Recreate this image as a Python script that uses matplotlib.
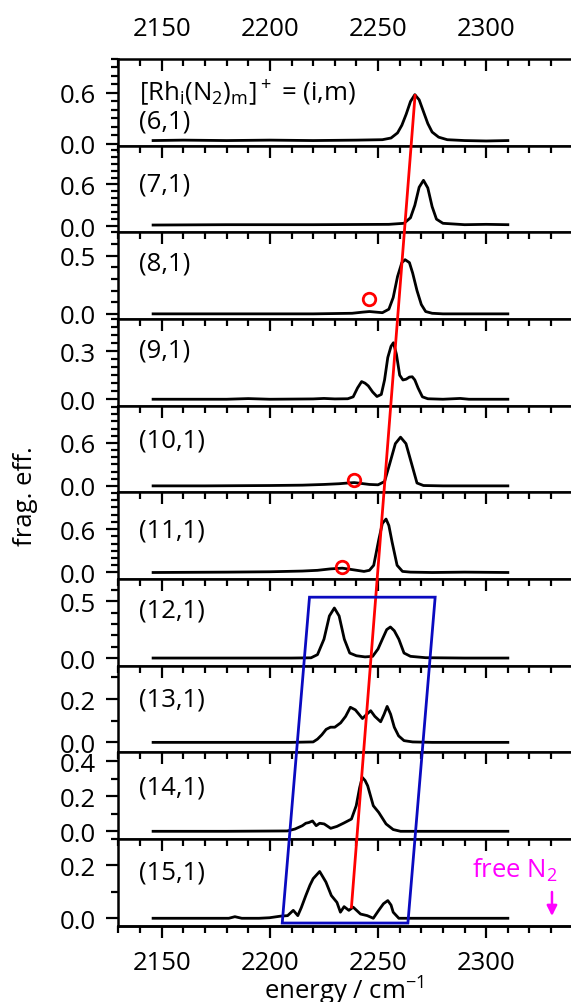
import matplotlib.pyplot as plt
from matplotlib.patches import Polygon
from matplotlib.ticker import MultipleLocator, FixedLocator, FormatStrFormatter

plt.rcParams['font.family'] = ['Open Sans', 'DejaVu Sans']
plt.rcParams['mathtext.default'] = 'regular'
FS = 18.5
plt.rcParams['font.size'] = FS

# spectra, cluster (i,1)
x6 = [2146, 2160, 2180, 2200, 2220, 2240, 2252, 2256, 2259, 2261, 2263, 2265, 2267, 2269, 2271, 2273, 2275, 2278, 2282, 2290, 2300, 2310]
y6 = [0.04, 0.045, 0.04, 0.045, 0.04, 0.045, 0.05, 0.07, 0.13, 0.22, 0.35, 0.5, 0.58, 0.52, 0.38, 0.24, 0.14, 0.08, 0.05, 0.04, 0.035, 0.04]

x7 = [2146, 2180, 2220, 2255, 2262, 2265, 2267, 2269, 2271, 2273, 2275, 2277, 2280, 2290, 2300, 2310]
y7 = [0.015, 0.02, 0.02, 0.025, 0.04, 0.12, 0.3, 0.56, 0.66, 0.55, 0.28, 0.1, 0.04, 0.02, 0.025, 0.02]

x8 = [2146, 2180, 2220, 2238, 2243, 2246, 2249, 2252, 2255, 2257, 2259, 2261, 2262.5, 2264.5, 2266, 2268, 2270, 2272, 2275, 2280, 2300, 2310]
y8 = [0.0, 0.0, 0.0, 0.005, 0.015, 0.02, 0.015, 0.01, 0.04, 0.14, 0.32, 0.44, 0.465, 0.44, 0.35, 0.2, 0.08, 0.02, 0.005, 0.0, 0.0, 0.0]

x9 = [2146, 2180, 2190, 2200, 2220, 2225, 2230, 2236, 2238.5, 2240.5, 2242.4, 2244, 2245.5, 2247.5, 2249.5, 2251.5, 2253,
      2254.5, 2256, 2257.1, 2258.5, 2260, 2261.5, 2263, 2264.5, 2265.8, 2267, 2268.5, 2270.5, 2273, 2280, 2288, 2292, 2310]
y9 = [0, 0, 0.004, 0, 0.002, 0.005, 0.002, 0.003, 0.015, 0.07, 0.11, 0.1, 0.083, 0.045, 0.017, 0.03, 0.12,
      0.26, 0.33, 0.352, 0.28, 0.15, 0.12, 0.125, 0.138, 0.14, 0.12, 0.07, 0.015, 0.003, 0.0, 0.005, 0.0, 0.0]

x10 = [2146, 2170, 2200, 2215, 2225, 2232, 2236, 2239, 2242, 2246, 2250, 2253, 2255.4, 2258, 2260.4, 2262.9, 2265.5, 2268, 2271, 2280, 2300, 2310]
y10 = [0.0, 0.0, 0.005, 0.01, 0.02, 0.03, 0.04, 0.046, 0.035, 0.02, 0.015, 0.06, 0.31, 0.59, 0.68, 0.59, 0.31, 0.04, 0.005, 0.0, 0.0, 0.0]

x11 = [2146, 2180, 2200, 2215, 2222, 2228, 2233.5, 2238, 2243.5, 2246, 2248, 2250.3, 2252, 2253.7, 2255, 2256.5, 2258.8, 2261.3, 2265, 2275, 2290, 2310]
y11 = [0.0, 0.005, 0.01, 0.02, 0.03, 0.05, 0.06, 0.04, 0.015, 0.03, 0.1, 0.45, 0.68, 0.74, 0.65, 0.42, 0.1, 0.015, 0.005, 0.0, 0.005, 0.0]

x12 = [2146, 2180, 2210, 2219, 2222, 2225, 2227.5, 2229.8, 2232, 2234.4, 2236.9, 2240, 2244, 2247.5, 2250, 2252, 2254,
       2255.7, 2257.5, 2259.6, 2262, 2265, 2272, 2290, 2310]
y12 = [0, 0, 0, 0.002, 0.03, 0.166, 0.37, 0.44, 0.37, 0.166, 0.044, 0.02, 0.01, 0.015, 0.08, 0.166, 0.25,
       0.273, 0.24, 0.166, 0.044, 0.015, 0.003, 0, 0]

x13 = [2146, 2180, 2210, 2220, 2222, 2224, 2226, 2228, 2230, 2232.7, 2235, 2237.2, 2239.5, 2242.8, 2244.8, 2246.6,
       2248.5, 2251.2, 2252.8, 2254.2, 2255.8, 2257.5, 2259.5, 2262, 2266, 2275, 2310]
y13 = [0, 0, 0, 0.002, 0.015, 0.035, 0.06, 0.07, 0.07, 0.09, 0.12, 0.162, 0.15, 0.11, 0.13, 0.146,
       0.12, 0.095, 0.13, 0.166, 0.13, 0.07, 0.03, 0.008, 0.002, 0, 0]

x14 = [2146, 2180, 2208, 2211.6, 2215, 2216.6, 2218, 2219.7, 2221.4, 2223, 2225.1, 2228.1, 2231, 2234.3, 2237.7,
       2239.9, 2241.5, 2242.7, 2244, 2245.2, 2247.8, 2250.3, 2253.7, 2257, 2260.4, 2275, 2310]
y14 = [0, 0, 0.002, 0.013, 0.032, 0.046, 0.05, 0.059, 0.032, 0.046, 0.042, 0.017, 0.028, 0.048, 0.07,
       0.146, 0.25, 0.308, 0.29, 0.26, 0.146, 0.108, 0.042, 0.01, 0.0, 0.0, 0.0]

x15 = [2146, 2170, 2181, 2183.8, 2187, 2195, 2199.8, 2204.9, 2208.2, 2210.8, 2212.9, 2214.5, 2216.6, 2218.5, 2220,
       2223, 2225.9, 2228.4, 2231, 2232.6, 2234.3, 2236.5, 2238.5, 2241.9, 2245, 2247.8, 2250.3, 2252.5, 2254.5,
       2256, 2257, 2259.6, 2265, 2310]
y15 = [0, 0, 0, 0.006, 0, 0, 0.002, 0.008, 0.01, 0.03, 0.01, 0.04, 0.086, 0.125, 0.15,
       0.177, 0.137, 0.086, 0.06, 0.023, 0.044, 0.03, 0.042, 0.016, 0.01, 0.0, 0.03, 0.055, 0.067,
       0.05, 0.023, 0.0, 0.0, 0.0]

labels = ['(6,1)', '(7,1)', '(8,1)', '(9,1)', '(10,1)', '(11,1)', '(12,1)', '(13,1)', '(14,1)', '(15,1)']
xs = [x6, x7, x8, x9, x10, x11, x12, x13, x14, x15]
ys = [y6, y7, y8, y9, y10, y11, y12, y13, y14, y15]
yticks = [[0, 0.6], [0, 0.6], [0, 0.5], [0, 0.3], [0, 0.6], [0, 0.6], [0, 0.5], [0, 0.2], [0, 0.2, 0.4], [0, 0.2]]
yminor = [0.1, 0.1, 0.1, 0.05, 0.1, 0.1, 0.1, 0.1, 0.1, 0.1]

# weak bands marked with red circles: (panel, x, y)
circ_panel = [2, 4, 5]
circ_x = [2245.8, 2238.9, 2233.5]
circ_y = [0.131, 0.078, 0.077]

ylims = [(-0.02, 1.0), (-0.09, 1.16), (-0.044, 0.70), (-0.04, 0.50), (-0.09, 1.12),
         (-0.09, 1.11), (-0.067, 0.695), (-0.046, 0.354), (-0.044, 0.451), (-0.028, 0.30)]
label_y = [0.28, 0.555, 0.643, 0.646, 0.604, 0.57, 0.646, 0.616, 0.596, 0.615]

fig = plt.figure(figsize=(5.71, 10.03), dpi=100)
left, right = 0.206, 1.0
top, bot = 0.9402, 0.0761
h = (top - bot) / 10
axes = []
for i in range(10):
    ax = fig.add_axes([left, top - (i + 1) * h, right - left, h])
    ax.plot(xs[i], ys[i], color='black', lw=2.0)
    ax.set_xlim(2129.6, 2339.2)
    ax.set_ylim(*ylims[i])
    ax.yaxis.set_major_locator(FixedLocator(yticks[i]))
    ax.yaxis.set_minor_locator(MultipleLocator(yminor[i]))
    ax.yaxis.set_major_formatter(FormatStrFormatter('%.1f'))
    ax.xaxis.set_major_locator(MultipleLocator(50))
    ax.xaxis.set_minor_locator(MultipleLocator(10))
    ax.spines['right'].set_visible(False)
    for s in ['left', 'top', 'bottom']:
        ax.spines[s].set_linewidth(1.8)
    ax.tick_params(axis='y', which='both', direction='out', width=1.6, pad=7, labelsize=FS)
    ax.tick_params(axis='y', which='major', length=8.6)
    ax.tick_params(axis='y', which='minor', length=4.8)
    ax.tick_params(axis='x', which='both', direction='in', top=True, bottom=False,
                   labelbottom=False, width=1.6, labelsize=FS)
    ax.tick_params(axis='x', which='major', length=8.6)
    ax.tick_params(axis='x', which='minor', length=4.8)
    ax.text(0.047, label_y[i], labels[i], transform=ax.transAxes, va='center', ha='left', fontsize=FS)
    axes.append(ax)

axes[0].tick_params(axis='x', labeltop=True, pad=13)
axes[0].text(0.047, 0.615, '[Rh$_i$(N$_2$)$_m$]$^+$ = (i,m)', transform=axes[0].transAxes,
             va='center', ha='left', fontsize=FS)

sec = axes[9].secondary_xaxis('bottom')
sec.xaxis.set_major_locator(MultipleLocator(50))
sec.xaxis.set_minor_locator(MultipleLocator(10))
sec.tick_params(axis='x', which='both', direction='out', width=1.6, labelsize=FS, pad=9)
sec.tick_params(axis='x', which='major', length=8.6)
sec.tick_params(axis='x', which='minor', length=4.8)
sec.spines['bottom'].set_linewidth(1.8)
sec.set_xlabel('energy / cm$^{-1}$', fontsize=FS, labelpad=-1)

fig.text(25 / 571, 1 - 496 / 1003, 'frag. eff.', rotation=90, ha='center', va='center', fontsize=FS)

for p, cx, cy in zip(circ_panel, circ_x, circ_y):
    axes[p].plot([cx], [cy], 'o', mfc='none', mec='red', mew=2.0, ms=9)

# red guide line across panels and blue box (figure coordinates)
to_fig = fig.transFigure.inverted()
def fpt(ax, x, y):
    return to_fig.transform(ax.transData.transform((x, y)))

r0 = fpt(axes[0], 2267.1, 0.57)
r1 = fpt(axes[9], 2237.7, 0.042)
fig.add_artist(plt.Line2D([r0[0], r1[0]], [r0[1], r1[1]], color='red', lw=2.0, zorder=10))

box = [fpt(axes[6], 2218.3, 0.535), fpt(axes[6], 2276.4, 0.535),
       fpt(axes[9], 2263.8, -0.018), fpt(axes[9], 2205.7, -0.018)]
fig.add_artist(Polygon(box, closed=True, fill=False, edgecolor='#0a0ac0', lw=2.0, zorder=10))

axes[9].text(2333.0, 0.185, 'free N$_2$', color='magenta', ha='right', va='center', fontsize=FS)
axes[9].annotate('', xy=(2330.4, -0.002), xytext=(2330.4, 0.11),
                 arrowprops=dict(arrowstyle='-|>', color='magenta', lw=1.8, mutation_scale=15))

fig.savefig('out.png', dpi=100)
